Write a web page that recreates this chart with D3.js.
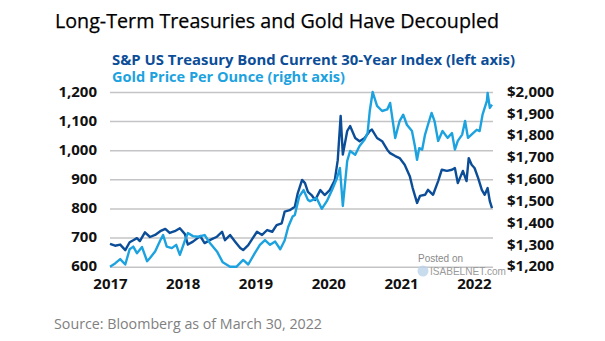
<!DOCTYPE html>
<html>
<head>
<meta charset="utf-8">
<script src="https://cdn.jsdelivr.net/npm/d3@7"></script>
<style>
  body { margin: 0; background: #fff; }
  svg { display: block; }
</style>
</head>
<body>
<div id="chart"></div>
<script>
// S&P US Treasury Bond Current 30-Year Index (left axis)
const bondYears = [2017.00, 2017.07, 2017.14, 2017.21, 2017.27, 2017.32, 2017.37, 2017.41, 2017.48, 2017.55,
  2017.62, 2017.69, 2017.76, 2017.82, 2017.89, 2017.96, 2018.03, 2018.07, 2018.14, 2018.24,
  2018.30, 2018.37, 2018.47, 2018.54, 2018.58, 2018.65, 2018.72, 2018.79, 2018.83, 2018.90,
  2018.96, 2019.02, 2019.09, 2019.16, 2019.23, 2019.29, 2019.36, 2019.40, 2019.47, 2019.54,
  2019.58, 2019.64, 2019.68, 2019.72, 2019.77, 2019.82, 2019.89, 2019.95, 2020.02, 2020.09,
  2020.13, 2020.17, 2020.20, 2020.26, 2020.30, 2020.37, 2020.43, 2020.50, 2020.57, 2020.60,
  2020.67, 2020.74, 2020.81, 2020.85, 2020.92, 2020.98, 2021.05, 2021.12, 2021.16, 2021.22,
  2021.26, 2021.33, 2021.37, 2021.44, 2021.51, 2021.56, 2021.63, 2021.70, 2021.74, 2021.78,
  2021.85, 2021.90, 2021.93, 2021.97, 2022.01, 2022.06, 2022.11, 2022.15, 2022.19, 2022.22, 2022.25];
const bondValues = [678, 672, 676, 657, 684, 691, 698, 688, 718, 702,
  709, 722, 730, 716, 722, 732, 712, 676, 686, 705,
  681, 691, 703, 720, 691, 709, 686, 664, 657, 674,
  697, 720, 709, 726, 720, 743, 749, 789, 794, 806,
  852, 898, 887, 857, 846, 829, 863, 846, 863, 898,
  966, 1118, 985, 1066, 1083, 1042, 1031, 1042, 1066, 1071,
  1042, 1031, 1002, 990, 980, 973, 950, 911, 870, 819,
  843, 847, 864, 847, 894, 933, 929, 933, 939, 887,
  929, 894, 973, 950, 939, 904, 864, 847, 870, 825, 801];

// Gold Price Per Ounce (right axis)
const goldYears = [2017.00, 2017.07, 2017.14, 2017.21, 2017.27, 2017.32, 2017.37, 2017.44, 2017.51, 2017.55,
  2017.62, 2017.69, 2017.73, 2017.78, 2017.85, 2017.91, 2017.96, 2018.03, 2018.07, 2018.14,
  2018.21, 2018.30, 2018.37, 2018.47, 2018.55, 2018.65, 2018.74, 2018.83, 2018.90, 2018.99,
  2019.06, 2019.13, 2019.20, 2019.27, 2019.34, 2019.40, 2019.45, 2019.51, 2019.54, 2019.60,
  2019.66, 2019.72, 2019.75, 2019.84, 2019.91, 2019.98, 2020.05, 2020.12, 2020.16, 2020.20,
  2020.26, 2020.30, 2020.37, 2020.43, 2020.50, 2020.54, 2020.57, 2020.61, 2020.67, 2020.74,
  2020.81, 2020.85, 2020.92, 2020.98, 2021.03, 2021.08, 2021.15, 2021.19, 2021.22, 2021.25,
  2021.29, 2021.33, 2021.37, 2021.42, 2021.46, 2021.51, 2021.57, 2021.64, 2021.70, 2021.74,
  2021.78, 2021.84, 2021.88, 2021.92, 2021.99, 2022.04, 2022.08, 2022.12, 2022.18, 2022.19,
  2022.22, 2022.25];
const goldValues = [1200, 1215, 1235, 1210, 1280, 1292, 1262, 1290, 1225, 1240,
  1270, 1320, 1345, 1292, 1285, 1300, 1254, 1320, 1354, 1340,
  1337, 1345, 1310, 1270, 1220, 1200, 1200, 1231, 1210, 1262,
  1300, 1322, 1300, 1315, 1280, 1320, 1383, 1430, 1437, 1521,
  1551, 1506, 1500, 1514, 1465, 1500, 1550, 1606, 1652, 1478,
  1684, 1730, 1713, 1753, 1782, 1812, 1913, 2000, 1936, 1913,
  1920, 1950, 1789, 1867, 1896, 1850, 1821, 1753, 1690, 1743,
  1736, 1805, 1850, 1904, 1867, 1776, 1821, 1790, 1812, 1736,
  1776, 1805, 1867, 1790, 1812, 1827, 1821, 1896, 1959, 1996,
  1927, 1942];

const yearTicks = [2017, 2018, 2019, 2020, 2021, 2022];
const bondTicks = [600, 700, 800, 900, 1000, 1100, 1200];
const goldTicks = [1200, 1300, 1400, 1500, 1600, 1700, 1800, 1900, 2000];

const bond = bondYears.map((t, i) => ({ t: t, v: bondValues[i] }));
const gold = goldYears.map((t, i) => ({ t: t, v: goldValues[i] }));

const width = 605;
const height = 341;
const margin = { top: 92, right: 113, bottom: 74.3, left: 110 };

const darkBlue = "#0c4d98";
const lightBlue = "#1ca2df";
const font = "'Open Sans', 'Noto Sans', sans-serif";

const x = d3.scaleLinear()
            .domain([2017, 2022.25])
            .range([margin.left, width - margin.right])

const yL = d3.scaleLinear()
            .domain([600, 1200])
            .range([height - margin.bottom, margin.top])

const yR = d3.scaleLinear()
            .domain([1200, 2000])
            .range([height - margin.bottom, margin.top])

const svg = d3.select("#chart")
              .append("svg")
              .attr("width", width)
              .attr("height", height)
              .attr("viewBox", [0, 0, width, height])

// title
svg.append("text")
    .attr("x", 55)
    .attr("y", 28)
    .attr("font-family", font)
    .attr("font-size", 20.5)
    .attr("fill", "#000")
    .attr("stroke", "#000")
    .attr("stroke-width", 0.25)
    .attr("textLength", 444)
    .attr("lengthAdjust", "spacingAndGlyphs")
    .text("Long-Term Treasuries and Gold Have Decoupled")

// legend
svg.append("text")
    .attr("x", 112)
    .attr("y", 65)
    .attr("font-family", font)
    .attr("font-size", 15)
    .attr("font-weight", "bold")
    .attr("fill", darkBlue)
    .attr("textLength", 403)
    .attr("lengthAdjust", "spacingAndGlyphs")
    .text("S&P US Treasury Bond Current 30-Year Index (left axis)")

svg.append("text")
    .attr("x", 112)
    .attr("y", 82)
    .attr("font-family", font)
    .attr("font-size", 15)
    .attr("font-weight", "bold")
    .attr("fill", lightBlue)
    .attr("textLength", 233)
    .attr("lengthAdjust", "spacingAndGlyphs")
    .text("Gold Price Per Ounce (right axis)")

// gridlines + left axis
const leftAxis = svg.append("g")
    .attr("transform", `translate(${margin.left}, 0)`)
    .call(d3.axisLeft(yL)
        .tickValues(bondTicks)
        .tickSize(-(width - margin.left - margin.right + 1))
        .tickPadding(13)
        .tickFormat(d3.format(",")))

leftAxis.select(".domain").remove()
leftAxis.selectAll("line")
    .attr("stroke", "#c4c4c6")
    .attr("stroke-width", 1.5)
leftAxis.selectAll("text")
    .attr("font-family", font)
    .attr("font-size", 15)
    .attr("font-weight", "bold")
    .attr("fill", "#111")
    .attr("dy", "0.28em")

// right axis
const rightAxis = svg.append("g")
    .attr("transform", `translate(${width - margin.right}, 0)`)
    .call(d3.axisRight(yR)
        .tickValues(goldTicks)
        .tickSize(0)
        .tickPadding(15)
        .tickFormat(d => "$" + d3.format(",")(d)))

rightAxis.select(".domain").remove()
rightAxis.selectAll("text")
    .attr("font-family", font)
    .attr("font-size", 15)
    .attr("font-weight", "bold")
    .attr("fill", "#111")
    .attr("dy", "0.28em")

// x axis
const bottomAxis = svg.append("g")
    .attr("transform", `translate(0, ${height - margin.bottom})`)
    .call(d3.axisBottom(x)
        .tickValues(yearTicks)
        .tickSize(0)
        .tickPadding(12)
        .tickFormat(d3.format("d")))

bottomAxis.select(".domain").remove()
bottomAxis.selectAll("text")
    .attr("font-family", font)
    .attr("font-size", 15)
    .attr("font-weight", "bold")
    .attr("fill", "#111")

// lines
const lineL = d3.line().x(d => x(d.t)).y(d => yL(d.v))
const lineR = d3.line().x(d => x(d.t)).y(d => yR(d.v))

svg.append("path")
    .datum(bond)
    .attr("d", lineL)
    .attr("fill", "none")
    .attr("stroke", darkBlue)
    .attr("stroke-width", 2.4)
    .attr("stroke-linejoin", "round")

svg.append("path")
    .datum(gold)
    .attr("d", lineR)
    .attr("fill", "none")
    .attr("stroke", lightBlue)
    .attr("stroke-width", 2.4)
    .attr("stroke-linejoin", "round")

// watermark
svg.append("circle")
    .attr("cx", 423)
    .attr("cy", 271)
    .attr("r", 5.5)
    .attr("fill", "#bcd3ea")
    .attr("opacity", 0.8)

svg.append("text")
    .attr("x", 418)
    .attr("y", 262)
    .attr("font-family", "'Liberation Sans', Arial, sans-serif")
    .attr("font-size", 10)
    .attr("fill", "#8a8a8a")
    .text("Posted on")

svg.append("text")
    .attr("x", 430)
    .attr("y", 275)
    .attr("font-family", "'Liberation Sans', Arial, sans-serif")
    .attr("font-size", 11.5)
    .attr("fill", "#9a9a9a")
    .attr("textLength", 76)
    .attr("lengthAdjust", "spacingAndGlyphs")
    .text("ISABELNET.com")

// source
svg.append("text")
    .attr("x", 54)
    .attr("y", 329)
    .attr("font-family", font)
    .attr("font-size", 14)
    .attr("fill", "#808080")
    .attr("textLength", 268)
    .attr("lengthAdjust", "spacingAndGlyphs")
    .text("Source: Bloomberg as of March 30, 2022")
</script>
</body>
</html>
